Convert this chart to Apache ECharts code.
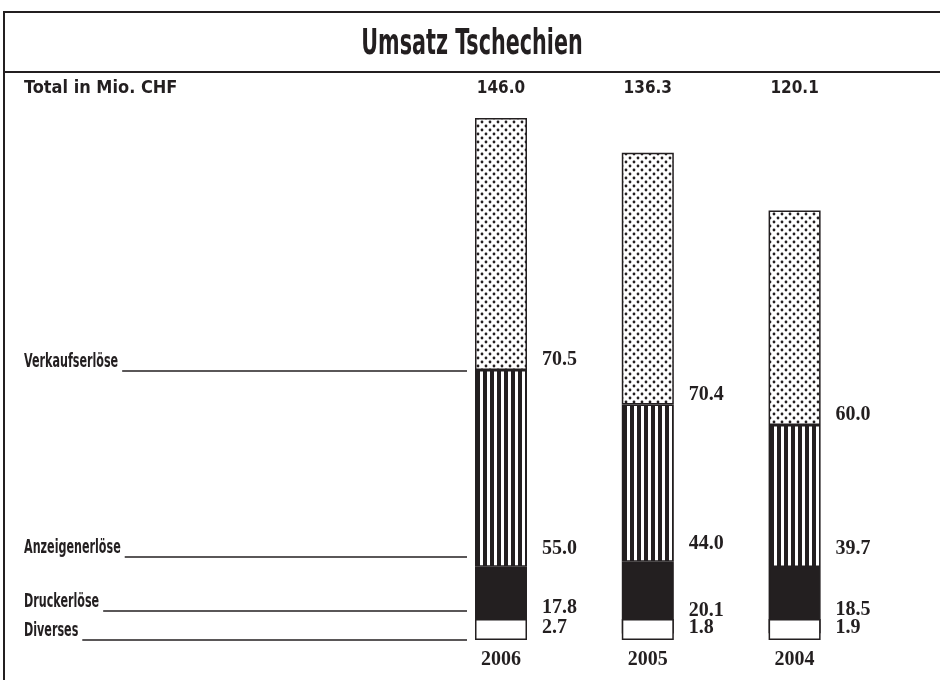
<!DOCTYPE html>
<html><head><meta charset="utf-8">
<script src="https://cdn.jsdelivr.net/npm/echarts@6/dist/echarts.min.js"></script>
<style>html,body{margin:0;padding:0;background:#fff}#c{width:940px;height:680px}</style>
</head><body><div id="c"></div>
<script>
const years = ['2006', '2005', '2004'];
const totals = [146.0, 136.3, 120.1];
const diverses = [2.7, 1.8, 1.9];
const druckerloese = [17.8, 20.1, 18.5];
const anzeigenerloese = [55.0, 44.0, 39.7];
const verkaufserloese = [70.5, 70.4, 60.0];
const seriesNames = ['Diverses', 'Druckerlöse', 'Anzeigenerlöse', 'Verkaufserlöse'];
const titleText = 'Umsatz Tschechien';
const unitText = 'Total in Mio. CHF';

const INK = '#231f20';
const GOTH = '"Liberation Sans Narrow", "DejaVu Sans Condensed", sans-serif';
const SERIF = '"Liberation Serif", "DejaVu Serif", serif';

function dotPattern() {
  const c = document.createElement('canvas'); c.width = 8; c.height = 8;
  const g = c.getContext('2d');
  g.fillStyle = '#fff'; g.fillRect(0, 0, 8, 8);
  g.fillStyle = INK;
  [[2, 2], [6, 6]].forEach(([x, y]) => { g.beginPath(); g.arc(x, y, 1.4, 0, Math.PI * 2); g.fill(); });
  return c;
}
function stripePattern() {
  const c = document.createElement('canvas'); c.width = 7; c.height = 4;
  const g = c.getContext('2d');
  g.fillStyle = '#fff'; g.fillRect(0, 0, 7, 4);
  g.fillStyle = INK; g.fillRect(0, 0, 4, 4);
  return c;
}

const fills = [
  '#ffffff',
  INK,
  { image: stripePattern(), repeat: 'repeat' },
  { image: dotPattern(), repeat: 'repeat' }
];
const labelOffsets = [[15, -2], [15, -13], [15, -8], [15, 0]];
const seriesData = [diverses, druckerloese, anzeigenerloese, verkaufserloese];

const chart = echarts.init(document.getElementById('c'));

const legendRows = [
  { name: seriesNames[3], y: 371 },
  { name: seriesNames[2], y: 557 },
  { name: seriesNames[1], y: 611 },
  { name: seriesNames[0], y: 640 }
];
const LEG_FONT = 'bold 20px ' + GOTH;
const LEG_SCALE = 0.62;

const graphics = [
  { type: 'rect', shape: { x: 4, y: 12, width: 960, height: 720 }, style: { fill: 'none', stroke: INK, lineWidth: 2 }, z: 10 },
  { type: 'line', shape: { x1: 4, y1: 72, x2: 960, y2: 72 }, style: { stroke: INK, lineWidth: 2 }, z: 10 },
  { type: 'text', x: 472, y: 45, scaleX: 0.64, style: { text: titleText, font: 'bold 36px ' + GOTH, fill: INK, textAlign: 'center', textVerticalAlign: 'middle' }, z: 10 },
  { type: 'text', x: 24, y: 88, style: { text: unitText, font: 'bold 18px ' + GOTH, fill: INK, textAlign: 'left', textVerticalAlign: 'middle' }, z: 10 }
];
legendRows.forEach(r => {
  graphics.push({ type: 'text', x: 24, y: r.y + 1, scaleX: LEG_SCALE, style: { text: r.name, font: LEG_FONT, fill: INK, textAlign: 'left', textVerticalAlign: 'bottom' }, z: 10 });
});

const option = {
  animation: false,
  backgroundColor: '#fff',
  grid: { left: 427.6, right: 72, top: 118, bottom: 40 },
  xAxis: [
    {
      type: 'category', data: years, position: 'bottom',
      axisLine: { show: false }, axisTick: { show: false },
      axisLabel: { margin: 10, fontFamily: SERIF, fontSize: 20, color: INK, fontWeight: 'bold' }
    },
    {
      type: 'category', data: totals.map(v => v.toFixed(1)), position: 'top',
      axisLine: { show: false }, axisTick: { show: false },
      axisLabel: { margin: 21, fontFamily: GOTH, fontSize: 17, fontWeight: 'bold', color: INK }
    }
  ],
  yAxis: { type: 'value', min: 0, max: v => v.max, show: false },
  series: seriesData.map((d, i) => ({
    name: seriesNames[i], type: 'bar', stack: 'total', barWidth: 52, xAxisIndex: 0,
    data: d,
    z: i === 0 ? 3 : 2,
    barMinHeight: i === 0 ? 21 : 0,
    itemStyle: { color: fills[i], borderColor: INK, borderWidth: 1.5 },
    label: {
      show: true, position: ['100%', '100%'], offset: labelOffsets[i],
      align: 'left', verticalAlign: 'bottom',
      formatter: p => p.value.toFixed(1),
      fontFamily: SERIF, fontSize: 20, fontWeight: 'bold', color: INK
    }
  })),
  graphic: graphics
};
chart.setOption(option);

// leader lines from legend texts to the first bar's left edge
const barLeft = chart.convertToPixel({ xAxisIndex: 0 }, years[0]) - 26;
const extra = [];
const ctx = document.createElement('canvas').getContext('2d');
ctx.font = LEG_FONT;
legendRows.forEach(r => {
  const tw = ctx.measureText(r.name).width * LEG_SCALE;
  extra.push({ type: 'line', shape: { x1: 24 + tw + 4, y1: r.y, x2: barLeft - 8, y2: r.y }, style: { stroke: INK, lineWidth: 1.5 }, z: 10 });
});
chart.setOption({ graphic: graphics.concat(extra) });
</script>
</body></html>
